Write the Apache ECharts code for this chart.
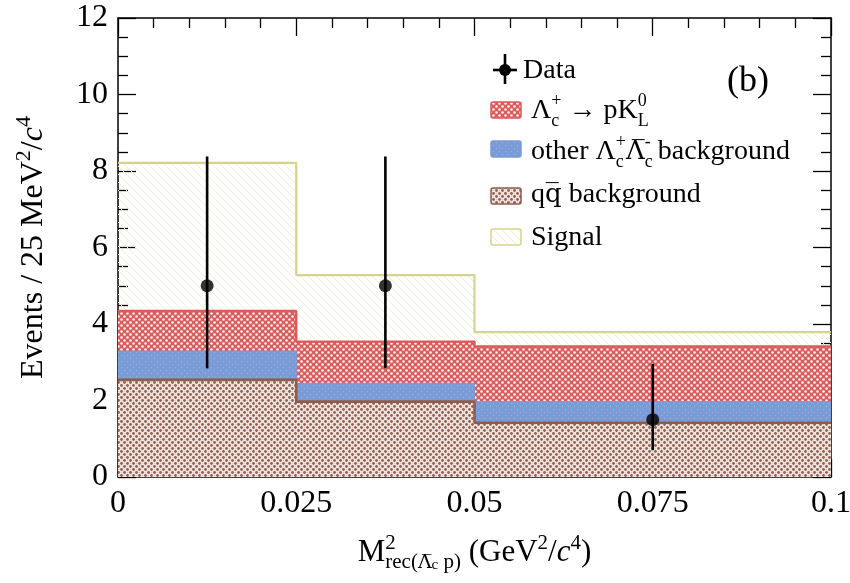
<!DOCTYPE html>
<html><head><meta charset="utf-8">
<script src="https://cdn.jsdelivr.net/npm/echarts@6/dist/echarts.min.js"></script>
<style>html,body{margin:0;padding:0;background:#fff}#c{width:850px;height:583px}</style>
</head><body><div id="c"></div>
<script>
// ---- data ----
const binLow  = [0, 0.025, 0.05];
const binHigh = [0.025, 0.05, 0.1];
const qqbarBkg = [2.54, 1.97, 1.42];
const otherBkg = [0.75, 0.48, 0.55];
const pKL      = [1.05, 1.09, 1.44];
const signal   = [3.87, 1.74, 0.38];
const dataX       = [0.0125, 0.0375, 0.075];
const dataY       = [5, 5, 1.5];
const dataErrLow  = [2.84, 2.84, 0.70];
const dataErrHigh = [8.38, 8.38, 2.96];
const xTickLabels = ['0', '0.025', '0.05', '0.075', '0.1'];
const yTickLabels = ['0', '2', '4', '6', '8', '10', '12'];

// ---- helpers ----
const FONT = "'Liberation Serif', 'DejaVu Serif', serif";
const FONT_OL = "'DejaVu Serif', 'Liberation Serif', serif";
function makePattern(w, h, draw) {
  const c = document.createElement('canvas');
  c.width = w; c.height = h;
  draw(c.getContext('2d'), w, h);
  return { image: c, repeat: 'repeat' };
}
function dots(ctx, pts, r, col) {
  ctx.fillStyle = col;
  pts.forEach(p => { ctx.beginPath(); ctx.arc(p[0], p[1], r, 0, Math.PI * 2); ctx.fill(); });
}
const redPat = makePattern(6, 6, (ctx, w, h) => {
  ctx.fillStyle = '#dc5c5c'; ctx.fillRect(0, 0, w, h);
  dots(ctx, [[1.5, 1.5], [4.5, 4.5]], 1.3, '#fff4f4');
});
const bluePat = makePattern(6, 6, (ctx, w, h) => {
  ctx.fillStyle = '#7b9bd7'; ctx.fillRect(0, 0, w, h);
  dots(ctx, [[1.5, 1.5], [4.5, 4.5]], 0.7, '#95b1e3');
});
const brownPat = makePattern(6, 6, (ctx, w, h) => {
  ctx.fillStyle = '#f6efec'; ctx.fillRect(0, 0, w, h);
  dots(ctx, [[1.5, 1.5], [4.5, 4.5]], 1.45, '#93604f');
  dots(ctx, [[4.5, 1.5], [1.5, 4.5]], 0.9, '#ddc7c0');
});
const signalPat = makePattern(8, 8, (ctx, w, h) => {
  ctx.strokeStyle = '#efeed8'; ctx.lineWidth = 1;
  ctx.beginPath();
  ctx.moveTo(-1, -1); ctx.lineTo(9, 9);
  ctx.moveTo(-1, 7); ctx.lineTo(1, 9);
  ctx.moveTo(7, -1); ctx.lineTo(9, 1);
  ctx.stroke();
});

function cumulative(...arrs) {
  return arrs[0].map((_, i) => arrs.reduce((s, a) => s + a[i], 0));
}
function stepData(tops) {
  const pts = binLow.map((x, i) => [x, +tops[i].toFixed(4)]);
  pts.push([binHigh[binHigh.length - 1], +tops[tops.length - 1].toFixed(4)]);
  return pts;
}
const topQQ = cumulative(qqbarBkg);
const topOther = cumulative(qqbarBkg, otherBkg);
const topPKL = cumulative(qqbarBkg, otherBkg, pKL);
const topSignal = cumulative(qqbarBkg, otherBkg, pKL, signal);

function histSeries(name, tops, pat, lineCol, lw) {
  return {
    name, type: 'line', step: 'end', symbol: 'none', data: stepData(tops),
    lineStyle: { color: lineCol, width: lw },
    itemStyle: { color: lineCol },
    areaStyle: { color: pat, opacity: 1 },
    silent: true
  };
}

const LF = 28;
const richCommon = {
  n:   { fontFamily: FONT, fontSize: LF, lineHeight: 38, color: '#000', align: 'left' },
  ol:  { fontFamily: FONT_OL, fontSize: LF - 2, lineHeight: 38, color: '#000', align: 'left' },
  sup: { fontFamily: FONT, fontSize: 18, lineHeight: 18, verticalAlign: 'top', color: '#000', align: 'left' },
  sub: { fontFamily: FONT, fontSize: 18, lineHeight: 18, verticalAlign: 'bottom', color: '#000', align: 'left' },
  subz:{ fontFamily: FONT, fontSize: 18, lineHeight: 18, verticalAlign: 'bottom', color: '#000', width: 0, align: 'left' },
};

const axisCommon = {
  axisLine: { show: true, onZero: false, lineStyle: { color: '#000', width: 1.5 } },
  axisTick: { show: true, inside: true, length: 18, lineStyle: { color: '#000', width: 1.3 } },
  minorTick: { show: true, length: 10, lineStyle: { color: '#000', width: 1.3 } },
  splitLine: { show: false },
  minorSplitLine: { show: false }
};

const chart = echarts.init(document.getElementById('c'), null, { renderer: 'canvas' });
chart.setOption({
  animation: false,
  backgroundColor: '#fff',
  grid: { left: 118, right: 19, top: 18, bottom: 106, containLabel: false, outerBoundsMode: 'none' },
  xAxis: [
    Object.assign({}, axisCommon, {
      type: 'value', min: 0, max: 0.1, interval: 0.025, position: 'bottom',
      minorTick: Object.assign({}, axisCommon.minorTick, { splitNumber: 5 }),
      axisLabel: { fontFamily: FONT, fontSize: 32, color: '#000', margin: 11,
        formatter: (v, i) => xTickLabels[i] },
      name: '{n|M}{supz|2}{sub|rec(}{ol|Λ\u0305}{subs|c}{sub| p)}{n| (GeV}{sup|2}{n|/}{i|c}{sup|4}{n|)}',
      nameLocation: 'middle', nameGap: 56,
      nameTextStyle: {
        rich: {
          n:   { fontFamily: FONT, fontSize: 31, lineHeight: 40, color: '#000', align: 'left' },
          i:   { fontFamily: FONT, fontSize: 31, lineHeight: 40, color: '#000', fontStyle: 'italic', align: 'left' },
          sup: { fontFamily: FONT, fontSize: 21, lineHeight: 20, verticalAlign: 'top', color: '#000', align: 'left' },
          supz:{ fontFamily: FONT, fontSize: 21, lineHeight: 20, verticalAlign: 'top', color: '#000', width: 0, align: 'left' },
          sub: { fontFamily: FONT, fontSize: 21, lineHeight: 20, verticalAlign: 'bottom', color: '#000', align: 'left' },
          ol:  { fontFamily: FONT_OL, fontSize: 19, lineHeight: 20, verticalAlign: 'bottom', color: '#000', align: 'left' },
          subs:{ fontFamily: FONT, fontSize: 15, lineHeight: 14, verticalAlign: 'bottom', color: '#000', align: 'left' }
        }
      }
    }),
    Object.assign({}, axisCommon, {
      type: 'value', min: 0, max: 0.1, interval: 0.025, position: 'top',
      minorTick: Object.assign({}, axisCommon.minorTick, { splitNumber: 5 }),
      axisLabel: { show: false }
    })
  ],
  yAxis: [
    Object.assign({}, axisCommon, {
      type: 'value', min: 0, max: 12, interval: 2, position: 'left',
      minorTick: Object.assign({}, axisCommon.minorTick, { splitNumber: 4 }),
      axisLabel: { fontFamily: FONT, fontSize: 32, color: '#000', margin: 10,
        formatter: (v, i) => yTickLabels[i] },
      name: '{n|Events / 25 MeV}{sup|2}{n|/}{i|c}{sup|4}',
      nameLocation: 'middle', nameGap: 63, nameRotate: 90,
      nameTextStyle: {
        rich: {
          n:   { fontFamily: FONT, fontSize: 32, lineHeight: 42, color: '#000' },
          i:   { fontFamily: FONT, fontSize: 32, lineHeight: 42, color: '#000', fontStyle: 'italic' },
          sup: { fontFamily: FONT, fontSize: 22, lineHeight: 22, verticalAlign: 'top', color: '#000' }
        }
      }
    }),
    Object.assign({}, axisCommon, {
      type: 'value', min: 0, max: 12, interval: 2, position: 'right',
      minorTick: Object.assign({}, axisCommon.minorTick, { splitNumber: 4 }),
      axisLabel: { show: false }
    })
  ],
  series: [
    histSeries('Signal', topSignal, signalPat, '#d6d38e', 2.2),
    histSeries('Λc+ → pKL0', topPKL, redPat, '#dc5a5a', 2.4),
    histSeries('other Λc+Λc- background', topOther, bluePat, '#7b9bd7', 1),
    histSeries('qq background', topQQ, brownPat, '#8f5c4c', 2.6),
    {
      name: 'Data error', type: 'custom', z: 10,
      data: dataX.map((x, i) => [x, dataErrLow[i], dataErrHigh[i]]),
      encode: { x: 0, y: [1, 2] },
      renderItem: (params, api) => {
        const lo = api.coord([api.value(0), api.value(1)]);
        const hi = api.coord([api.value(0), api.value(2)]);
        return { type: 'line', shape: { x1: lo[0], y1: lo[1], x2: hi[0], y2: hi[1] },
                 style: { stroke: '#000', lineWidth: 2.6 } };
      }
    },
    {
      name: 'Data', type: 'scatter', z: 11, symbol: 'circle', symbolSize: 13,
      itemStyle: { color: '#000' },
      data: dataX.map((x, i) => [x, dataY[i]])
    }
  ],
  graphic: [
    // Data legend marker
    { type: 'line', shape: { x1: 505, y1: 54, x2: 505, y2: 84 }, style: { stroke: '#000', lineWidth: 2.6 } },
    { type: 'line', shape: { x1: 493, y1: 70, x2: 517, y2: 70 }, style: { stroke: '#000', lineWidth: 2.6 } },
    { type: 'circle', shape: { cx: 505, cy: 70, r: 6 }, style: { fill: '#000' } },
    { type: 'text', x: 523, y: 71, style: { text: '{n|Data}', rich: richCommon, verticalAlign: 'middle' } },
    // red
    { type: 'rect', shape: { x: 491, y: 102, width: 30, height: 16, r: 2 }, style: { fill: redPat, stroke: '#dc5a5a', lineWidth: 1.5 } },
    { type: 'text', x: 531, y: 111, style: { text: '{n|Λ}{subz|c}{sup|+}{n| → pK}{subz|L}{sup|0}', rich: richCommon, verticalAlign: 'middle' } },
    // blue
    { type: 'rect', shape: { x: 491, y: 141, width: 30, height: 16, r: 2 }, style: { fill: bluePat, stroke: '#7b9bd7', lineWidth: 1.5 } },
    { type: 'text', x: 531, y: 152, style: { text: '{n|other Λ}{subz|c}{sup|+}{ol|Λ\u0305}{subz|c}{sup|-}{n| background}', rich: richCommon, verticalAlign: 'middle' } },
    // brown
    { type: 'rect', shape: { x: 491, y: 188, width: 30, height: 16, r: 2 }, style: { fill: brownPat, stroke: '#8f5c4c', lineWidth: 1.5 } },
    { type: 'text', x: 531, y: 195, style: { text: '{n|q}{ol|q\u0305}{n| background}', rich: richCommon, verticalAlign: 'middle' } },
    // signal
    { type: 'rect', shape: { x: 491, y: 229, width: 30, height: 16, r: 2 }, style: { fill: signalPat, stroke: '#d6d38e', lineWidth: 1.5 } },
    { type: 'text', x: 531, y: 238, style: { text: '{n|Signal}', rich: richCommon, verticalAlign: 'middle' } },
    // panel label
    { type: 'text', x: 727, y: 82, style: { text: '(b)', fontFamily: FONT, fontSize: 36, fill: '#000', verticalAlign: 'middle' } }
  ]
});
</script>
</body></html>
